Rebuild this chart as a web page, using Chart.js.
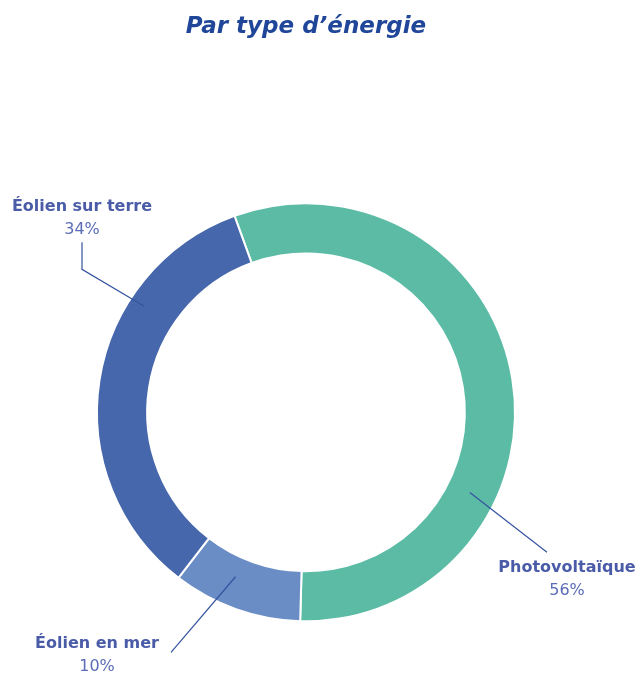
<!DOCTYPE html>
<html lang="fr">
<head>
<meta charset="utf-8">
<script src="https://cdn.jsdelivr.net/npm/chart.js@4"></script>
<style>
  html, body { margin: 0; padding: 0; background: #fff; }
  #wrap { width: 643px; height: 674px; position: relative; }
</style>
</head>
<body>
<div id="wrap"><canvas id="energyChart"></canvas></div>
<script>
// data
const labels = ['Photovoltaïque', 'Éolien en mer', 'Éolien sur terre'];
const shares = [56, 10, 34];
const colors = ['#5BBBA5', '#6A8DC5', '#4667AB'];

// where each callout sits, relative to the donut centre (t = along arc, f = across ring)
const callouts = [
  { t: 0.675, f: 0.47, path: [[241, 140]], text: [261, 156] },
  { t: 0.60, f: 0.40, path: [[-135, 240]], text: [-209, 232] },
  { t: 0.70, f: 0.69, path: [[-224, -143], [-224, -170]], text: [-224, -205] },
];

const FONT = '"DejaVu Sans", "Open Sans", sans-serif';

const calloutPlugin = {
  id: 'callouts',
  afterDatasetsDraw(chart) {
    const ctx = chart.ctx;
    const arcs = chart.getDatasetMeta(0).data;
    arcs.forEach((arc, i) => {
      const c = callouts[i];
      const { x, y, startAngle, endAngle, innerRadius, outerRadius } = arc.getProps(['x', 'y', 'startAngle', 'endAngle', 'innerRadius', 'outerRadius'], true);
      const a = startAngle + c.t * (endAngle - startAngle);
      const r = innerRadius + c.f * (outerRadius - innerRadius);
      ctx.save();
      ctx.strokeStyle = '#3553A0';
      ctx.lineWidth = 1.2;
      ctx.beginPath();
      ctx.moveTo(x + r * Math.cos(a), y + r * Math.sin(a));
      c.path.forEach(p => ctx.lineTo(x + p[0], y + p[1]));
      ctx.stroke();

      ctx.textAlign = 'center';
      ctx.textBaseline = 'middle';
      ctx.fillStyle = '#4A5BA8';
      ctx.font = `bold 16px ${FONT}`;
      ctx.fillText(labels[i], x + c.text[0], y + c.text[1]);
      ctx.fillStyle = '#5B6DB6';
      ctx.font = `16px ${FONT}`;
      ctx.fillText(shares[i] + '%', x + c.text[0], y + c.text[1] + 23);
      ctx.restore();
    });
  }
};

new Chart(document.getElementById('energyChart'), {
  type: 'doughnut',
  data: {
    labels: labels,
    datasets: [{
      data: shares,
      backgroundColor: colors,
      borderColor: '#ffffff',
      borderWidth: 2,
    }]
  },
  options: {
    responsive: true,
    maintainAspectRatio: false,
    animation: false,
    rotation: -20,
    cutout: '76%',
    layout: { padding: { left: 96, right: 127, top: 0, bottom: 51 } },
    plugins: {
      legend: { display: false },
      tooltip: { enabled: false },
      title: {
        display: true,
        text: 'Par type d’énergie',
        color: '#1F4699',
        font: { family: FONT, size: 23, weight: 'bold', style: 'italic', lineHeight: 1.2 },
        padding: { top: 13, bottom: 161 },
      },
    },
  },
  plugins: [calloutPlugin],
});
</script>
</body>
</html>
